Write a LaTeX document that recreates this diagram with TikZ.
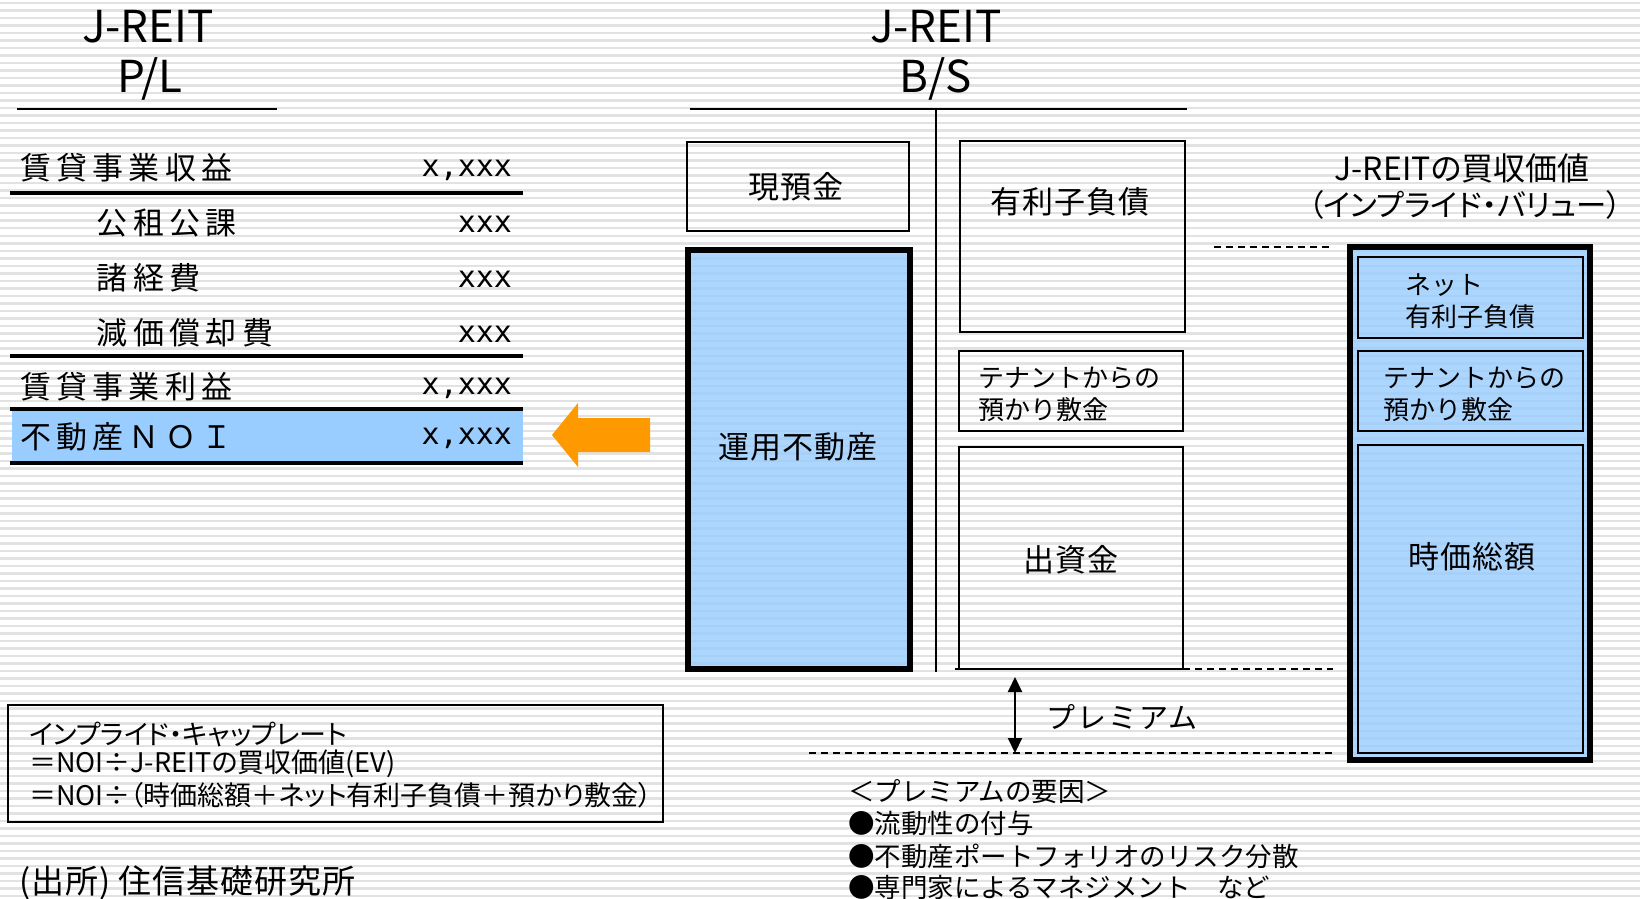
\documentclass[tikz,border=0pt]{standalone}
\usepackage{fontspec}
\setmainfont{Noto Sans CJK JP}
\newfontfamily\monofont{DejaVu Sans Mono}
\newcommand{\fsz}[1]{\fontsize{#1pt}{#1pt}\selectfont}
\definecolor{boxblue}{HTML}{99CCFF}
\definecolor{arroworange}{HTML}{FF9900}
\definecolor{stripegray}{HTML}{E2E2E2}
\usetikzlibrary{arrows.meta}
\tikzset{
  every node/.style={inner sep=0pt, outer sep=0pt},
  hdr/.style={font=\fsz{22}},
  rowtxt/.style={anchor=west, font=\fsz{15.5}\addfontfeature{LetterSpace=17}},
  numtxt/.style={anchor=east, font=\monofont\fsz{15}},
  boxtxt/.style={font=\fsz{15.5}\addfontfeature{LetterSpace=4}},
  smtxt/.style={anchor=west, font=\fsz{13}},
  titletxt/.style={font=\fsz{16}\addfontfeature{RawFeature=+palt}},
  title2txt/.style={font=\fsz{15.2}\addfontfeature{RawFeature=+palt}},
  premtxt/.style={anchor=west, font=\fsz{14.5}\addfontfeature{LetterSpace=7}},
  listtxt/.style={anchor=west, font=\fsz{13.25}},
  formtxt/.style={anchor=west, font=\fsz{13.5}\addfontfeature{RawFeature=+palt}},
  srctxt/.style={anchor=west, font=\fsz{16.5}\addfontfeature{LetterSpace=3}},
  bx/.style={draw, line width=1pt},
  heavybx/.style={draw, line width=2.75pt, fill=boxblue, fill opacity=0.8},
  plrule/.style={line width=2pt},
  hair/.style={line width=0.75pt},
  dsh/.style={dash pattern=on 3.5pt off 2.5pt, line width=1pt},
  dblarrow/.style={line width=1pt, {Triangle[width=7pt,length=7.5pt]}-{Triangle[width=7pt,length=7.5pt]}},
}
\begin{document}
\begin{tikzpicture}[x=0.5pt,y=-0.5pt]
\useasboundingbox (0,0) rectangle (1640,899);
\fill[white] (0,0) rectangle (1640,899);
\foreach \i in {0,...,120} {\fill[stripegray] (0,\i*7.5+2) rectangle (1640,\i*7.5+4.5);}

% ---------- P/L ----------
\node[hdr] (plh1) at (148,27) {J-REIT};
\node[hdr] (plh2) at (150,79) {P/L};
\draw[hair] (17,109) -- (277,109);

\node[rowtxt] (r1) at (20,168) {賃貸事業収益};
\node[numtxt] (r1v) at (512,170) {x,xxx};
\draw[plrule] (10,193) -- (523,193);
\node[rowtxt] (r2) at (97,223) {公租公課};
\node[numtxt] (r2v) at (512,224) {xxx};
\node[rowtxt] (r3) at (97,278) {諸経費};
\node[numtxt] (r3v) at (512,279) {xxx};
\node[rowtxt] (r4) at (97,333) {減価償却費};
\node[numtxt] (r4v) at (512,334) {xxx};
\draw[plrule] (10,356) -- (523,356);
\node[rowtxt] (r5) at (20,387) {賃貸事業利益};
\node[numtxt] (r5v) at (512,388) {x,xxx};
\fill[boxblue] (12,410) rectangle (523,462);
\draw[plrule] (10,409) -- (523,409);
\draw[plrule] (10,463) -- (523,463);
\node[rowtxt] (r6) at (20,437) {不動産ＮＯＩ};
\node[numtxt] (r6v) at (512,438) {x,xxx};

% orange arrow
\fill[arroworange] (552,435) -- (578,403) -- (578,418) -- (650,418) -- (650,452) -- (578,452) -- (578,467) -- cycle;

% ---------- B/S ----------
\node[hdr] (bsh1) at (936,27) {J-REIT};
\node[hdr] (bsh2) at (936,79) {B/S};
\draw[hair] (690,109) -- (1187,109);
\draw[line width=1pt] (936,109) -- (936,672);

\draw[bx] (687,142) rectangle (909,231);
\node[boxtxt] (cash) at (796,187) {現預金};
\draw[heavybx] (688,250) rectangle (910,669);
\node[boxtxt] (realestate) at (798,447) {運用不動産};

\draw[bx] (960,141) rectangle (1185,332);
\node[boxtxt] (debt) at (1070,202) {有利子負債};
\draw[bx] (959,351) rectangle (1183,431);
\node[smtxt] (dep1) at (978,378) {テナントからの};
\node[smtxt] (dep2) at (978,410) {預かり敷金};
\draw[bx] (959,447) rectangle (1183,669);
\node[boxtxt] (equity) at (1071,560) {出資金};

% dashed guides
\draw[dsh] (1214,247) -- (1333,247);
\draw[dsh] (955,669) -- (1333,669);
\draw[dsh] (809,753) -- (1333,753);

\coordinate (premtop) at (1015,677);
\coordinate (prembot) at (1015,753);
\draw[dblarrow] (premtop) -- (prembot);
\node[premtxt] (prem) at (1046,717) {プレミアム};

% ---------- implied value ----------
\node[titletxt] (ivt1) at (1462,168) {J-REITの買収価値};
\node[title2txt] (ivt2) at (1465,205) {（インプライド・バリュー）};
\draw[heavybx] (1350,247) rectangle (1590,760);
\draw[bx] (1358,257) rectangle (1583,338);
\node[smtxt] (nd1) at (1405,285) {ネット};
\node[smtxt] (nd2) at (1405,317) {有利子負債};
\draw[bx] (1358,351) rectangle (1583,431);
\node[smtxt] (id1) at (1383,378) {テナントからの};
\node[smtxt] (id2) at (1383,410) {預かり敷金};
\draw[bx] (1358,445) rectangle (1583,753);
\node[boxtxt] (mcap) at (1472,557) {時価総額};

% ---------- premium factors ----------
\node[listtxt] (pf0) at (848,792) {＜プレミアムの要因＞};
\node[listtxt] (pf1) at (848,823) {●流動性の付与};
\node[listtxt] (pf2) at (848,856) {●不動産ポートフォリオのリスク分散};
\node[listtxt] (pf3) at (848,887) {●専門家によるマネジメント　など};

% ---------- formula box ----------
\draw[bx] (8,705) rectangle (663,822);
\node[formtxt] (fm1) at (29,734) {インプライド・キャップレート};
\node[formtxt] (fm2) at (29,764) {＝NOI÷J-REITの買収価値(EV)};
\node[formtxt] (fm3) at (29,795) {＝NOI÷（時価総額＋ネット有利子負債＋預かり敷金）};

\node[srctxt] (src) at (19,883) {(出所) 住信基礎研究所};
\end{tikzpicture}
\end{document}
